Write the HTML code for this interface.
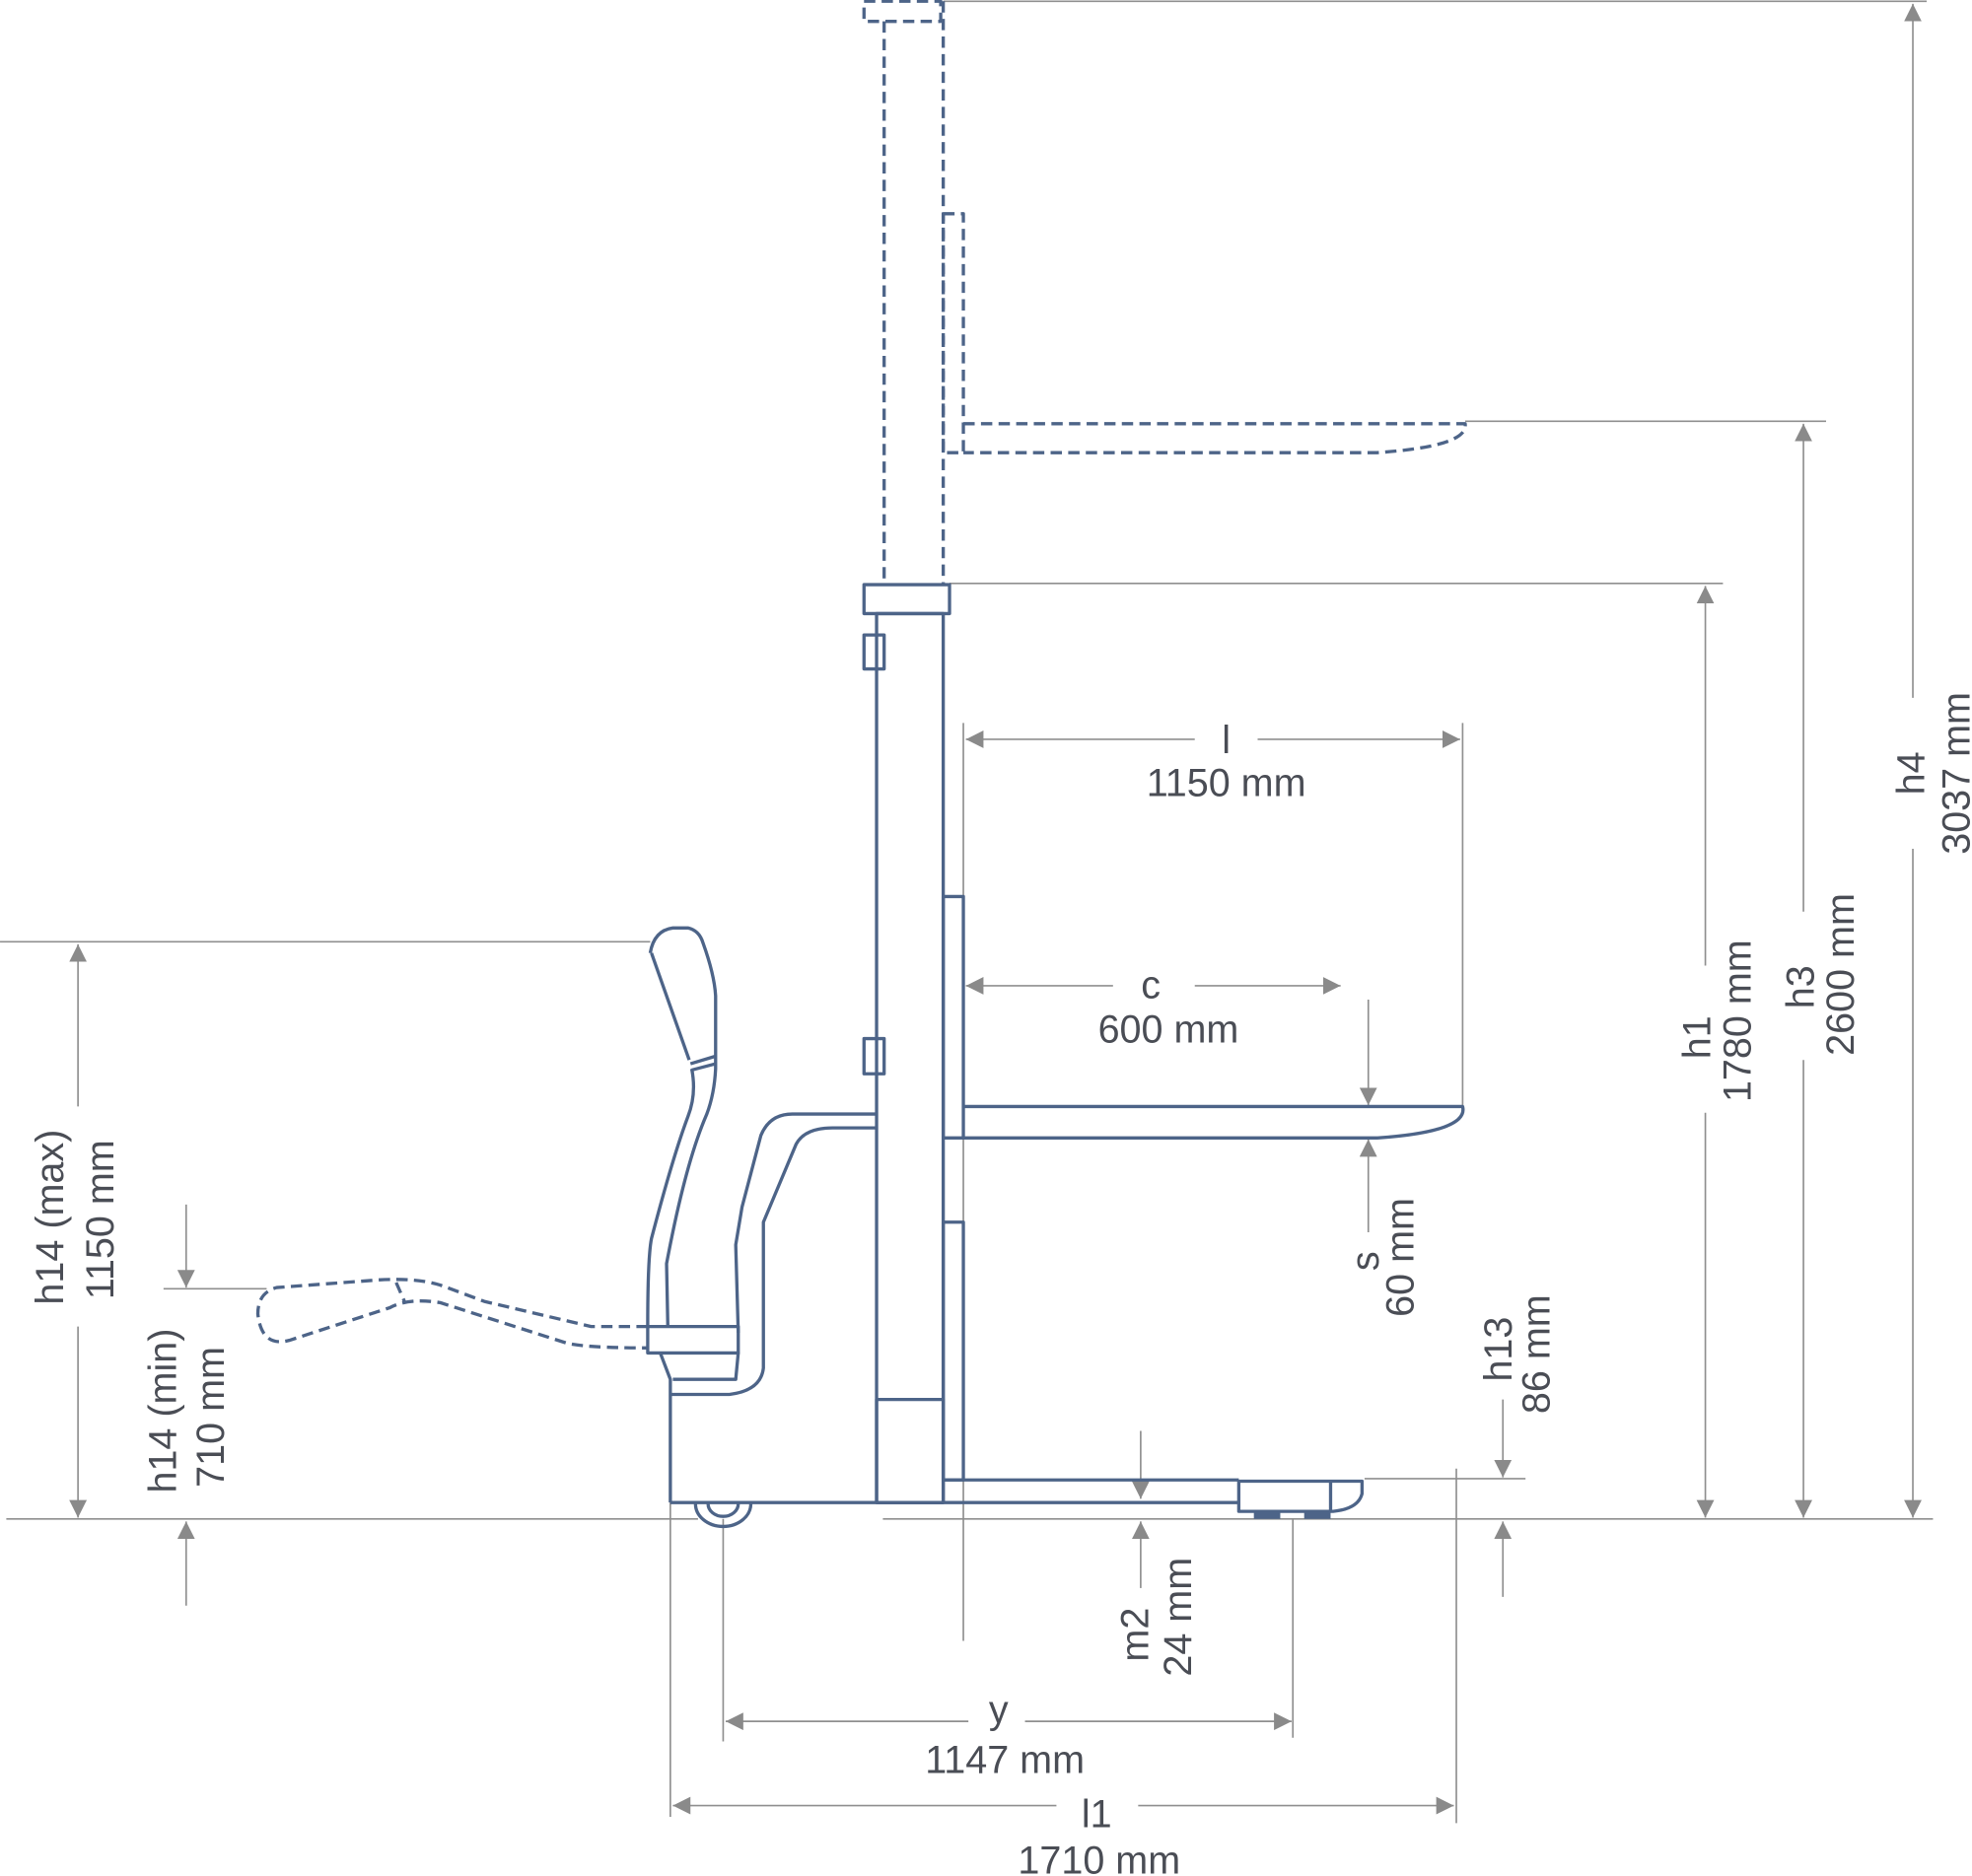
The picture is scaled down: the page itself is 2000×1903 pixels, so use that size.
<!DOCTYPE html>
<html><head><meta charset="utf-8"><style>
html,body{margin:0;padding:0;background:#fff;}
svg{display:block}
text{font-family:"Liberation Sans",sans-serif;font-size:31px;fill:#4a4d55;}
</style></head><body>
<svg width="2000" height="1903" viewBox="0 0 1568 1492" xmlns="http://www.w3.org/2000/svg">
<defs>
<marker id="a" viewBox="0 0 10 10" refX="10" refY="5" markerWidth="14" markerHeight="14" markerUnits="userSpaceOnUse" orient="auto"><path d="M0,0 L10,5 L0,10z" fill="#8a8a8a"/></marker>
</defs>
<g stroke="#8f8f8f" stroke-width="1.3" fill="none">
<!-- extension lines -->
<line x1="750" y1="1" x2="1532" y2="1"/>
<line x1="1165" y1="335" x2="1452" y2="335"/>
<line x1="755" y1="464" x2="1370" y2="464"/>
<line x1="5" y1="1208" x2="555" y2="1208"/>
<line x1="702" y1="1208" x2="1537" y2="1208"/>
<line x1="0" y1="749" x2="517" y2="749"/>
<line x1="130" y1="1025" x2="212" y2="1025"/>
<line x1="766" y1="575" x2="766" y2="1305"/>
<line x1="1163" y1="575" x2="1163" y2="880"/>
<line x1="1085" y1="1176" x2="1213" y2="1176"/>
<line x1="575" y1="1208" x2="575" y2="1385"/>
<line x1="1028" y1="1208" x2="1028" y2="1382"/>
<line x1="533" y1="1195" x2="533" y2="1445"/>
<line x1="1158" y1="1168" x2="1158" y2="1450"/>
</g>
<g stroke="#8f8f8f" stroke-width="1.3" fill="none" marker-end="url(#a)">
<!-- h4 -->
<line x1="1521" y1="555" x2="1521" y2="3"/><line x1="1521" y1="675" x2="1521" y2="1207"/>
<!-- h3 -->
<line x1="1434" y1="725" x2="1434" y2="337"/><line x1="1434" y1="843" x2="1434" y2="1207"/>
<!-- h1 -->
<line x1="1356" y1="768" x2="1356" y2="466"/><line x1="1356" y1="885" x2="1356" y2="1207"/>
<!-- h14 max -->
<line x1="62" y1="880" x2="62" y2="751"/><line x1="62" y1="1055" x2="62" y2="1207"/>
<!-- h14 min -->
<line x1="148" y1="958" x2="148" y2="1024"/><line x1="148" y1="1277" x2="148" y2="1210"/>
<!-- l -->
<line x1="950" y1="588" x2="768" y2="588"/><line x1="1000" y1="588" x2="1161" y2="588"/>
<!-- c -->
<line x1="885" y1="784" x2="768" y2="784"/><line x1="950" y1="784" x2="1066" y2="784"/>
<!-- s -->
<line x1="1088" y1="795" x2="1088" y2="879"/><line x1="1088" y1="980" x2="1088" y2="906"/>
<!-- h13 -->
<line x1="1195" y1="1113" x2="1195" y2="1175"/><line x1="1195" y1="1270" x2="1195" y2="1210"/>
<!-- m2 -->
<line x1="907" y1="1138" x2="907" y2="1192"/><line x1="907" y1="1263" x2="907" y2="1210"/>
<!-- y -->
<line x1="770" y1="1369" x2="577" y2="1369"/><line x1="815" y1="1369" x2="1027" y2="1369"/>
<!-- l1 -->
<line x1="840" y1="1436" x2="535" y2="1436"/><line x1="905" y1="1436" x2="1156" y2="1436"/>
</g>

<!-- truck -->
<g stroke="#4d6488" stroke-width="2.6" fill="none" stroke-linejoin="round">
<g stroke-dasharray="9,5">
<rect x="687" y="1" width="61" height="16"/>
<line x1="703" y1="17" x2="703" y2="465"/>
<line x1="750" y1="1" x2="750" y2="465"/>
<rect x="750" y="170" width="16" height="190"/>
<path d="M766,337 L1165,337 Q1168,355 1095,360 L766,360"/>
<path d="M515,1055 L470,1055 L385,1035 L350,1022 Q330,1016 300,1018 L220,1024 Q205,1028 205,1045 Q208,1072 230,1066 L310,1040 Q325,1032 350,1036 L450,1068 Q465,1072 515,1072"/>
<path d="M315,1020 L322,1036"/>
</g>
<rect x="687" y="465" width="68" height="23"/>
<rect x="697" y="488" width="53" height="707"/>
<rect x="687" y="505" width="16" height="27"/>
<rect x="687" y="826" width="16" height="28"/>
<rect x="697" y="1113" width="53" height="82"/>
<rect x="750" y="713" width="16" height="192"/>
<rect x="750" y="972" width="16" height="205"/>
<path d="M766,880 L1163,880 Q1168,900 1095,905 L766,905"/>
<line x1="750" y1="1177" x2="985" y2="1177"/>
<line x1="533" y1="1195" x2="985" y2="1195"/>
<path d="M985,1178 L1083,1178 L1083,1188 Q1080,1200 1060,1202 L985,1202 Z"/>
<line x1="1058" y1="1178" x2="1058" y2="1202"/>
<path d="M533,1195 L533,1097 L525,1076"/>
<path d="M533,1109 L580,1109 Q605,1106 607,1088 L607,972 L633,910 Q640,897 662,897 L697,897"/>
<path d="M587,1060 L585,990 L590,960 L605,903 Q612,886 630,886 L697,886"/>
<path d="M517,758 Q520,740 535,738 L547,738 Q556,740 559,750 Q568,775 569,792 L569,850 Q568,870 562,886 Q545,925 530,1005 L531,1055"/>
<path d="M548,843 L518,758"/>
<path d="M550,850 Q554,870 547,888 Q535,920 518,985 Q515,1000 515,1055"/>
<line x1="549" y1="846" x2="569" y2="840"/><line x1="550" y1="851" x2="569" y2="846"/>
<rect x="515" y="1055" width="72" height="21"/>
<path d="M535,1097 L585,1097 L587,1076"/>
<path d="M553,1196 A22,18 0 0 0 597,1196"/>
<path d="M563,1196 A12,10 0 0 0 587,1196"/>
</g>
<rect x="997" y="1201" width="21" height="7" fill="#4d6488"/>
<rect x="1037" y="1201" width="21" height="7" fill="#4d6488"/>

<!-- labels -->
<text x="975" y="599" text-anchor="middle">l</text>
<text x="975" y="633" text-anchor="middle">1150 mm</text>
<text x="915" y="794" text-anchor="middle">c</text>
<text x="929" y="829" text-anchor="middle">600 mm</text>
<text x="794" y="1370" text-anchor="middle">y</text>
<text x="799" y="1410" text-anchor="middle">1147 mm</text>
<text x="872" y="1453" text-anchor="middle">l1</text>
<text x="874" y="1490" text-anchor="middle">1710 mm</text>
<g text-anchor="middle">
<text transform="translate(1530,615) rotate(-90)">h4</text>
<text transform="translate(1566,615) rotate(-90)">3037 mm</text>
<text transform="translate(1442,785) rotate(-90)">h3</text>
<text transform="translate(1474,775) rotate(-90)">2600 mm</text>
<text transform="translate(1360,825) rotate(-90)">h1</text>
<text transform="translate(1392,812) rotate(-90)">1780 mm</text>
<text transform="translate(50,968) rotate(-90)">h14 (max)</text>
<text transform="translate(90,970) rotate(-90)">1150 mm</text>
<text transform="translate(140,1122) rotate(-90)">h14 (min)</text>
<text transform="translate(178,1127) rotate(-90)">710 mm</text>
<text transform="translate(1096,1003) rotate(-90)">s</text>
<text transform="translate(1124,1000) rotate(-90)">60 mm</text>
<text transform="translate(1202,1073) rotate(-90)">h13</text>
<text transform="translate(1232,1077) rotate(-90)">86 mm</text>
<text transform="translate(913,1300) rotate(-90)">m2</text>
<text transform="translate(947,1286) rotate(-90)">24 mm</text>
</g>
</svg>
</body></html>
